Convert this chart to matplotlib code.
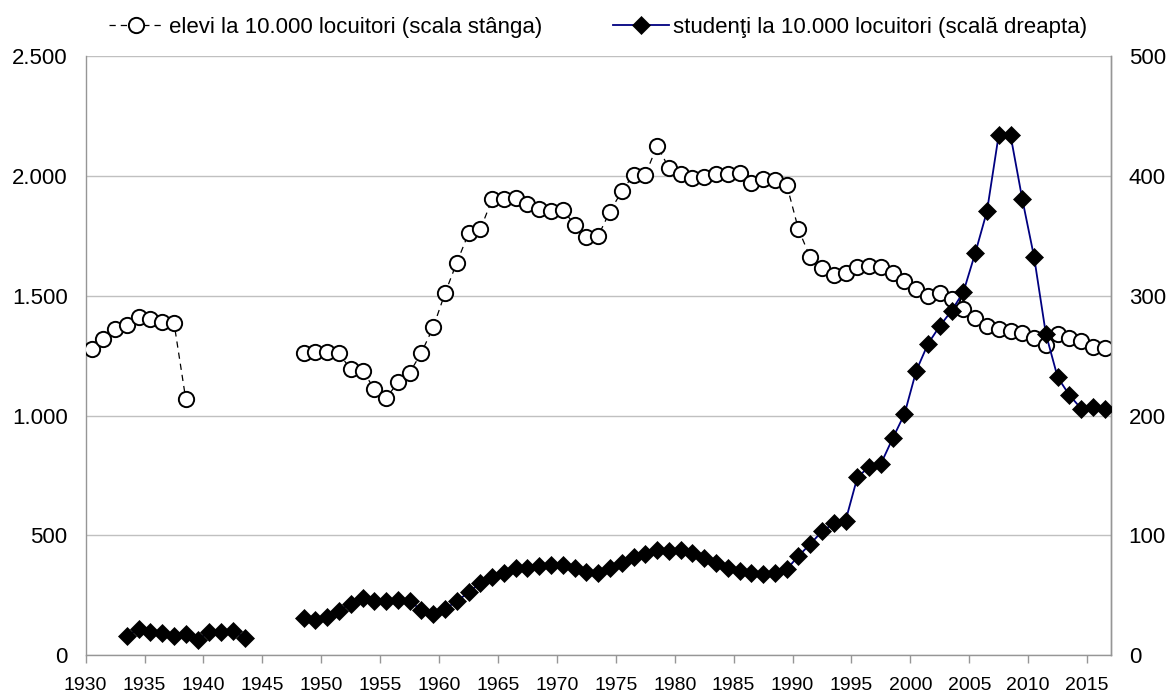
import numpy as np
import matplotlib
matplotlib.use("Agg")
import matplotlib.pyplot as plt
from matplotlib.ticker import FuncFormatter
from matplotlib import font_manager

nan = np.nan
years = list(range(1930, 2017))

elevi = ([1278, 1319, 1363, 1380, 1413, 1402, 1391, 1387, 1068]
         + [nan] * 9
         + [1260, 1266, 1267, 1260, 1193, 1188, 1112, 1072, 1139, 1179,
            1263, 1369, 1511, 1639, 1761, 1778, 1903, 1903, 1909, 1884,
            1864, 1853, 1860, 1797, 1747, 1751, 1852, 1937, 2006, 2006,
            2126, 2036, 2009, 1994, 1997, 2008, 2008, 2012, 1973, 1987,
            1984, 1965, 1778, 1661, 1617, 1587, 1596, 1621, 1625, 1622,
            1597, 1564, 1527, 1500, 1511, 1488, 1447, 1406, 1374, 1363,
            1355, 1344, 1324, 1295, 1341, 1324, 1313, 1288, 1281])

studenti = ([nan] * 3
            + [15.9, 21.7, 19.5, 18.1, 16.1, 17.3, 12.5, 19.5, 19.0, 20.0, 14.5]
            + [nan] * 4
            + [30.8, 29.5, 31.5, 37.0, 43.0, 48.0, 45.5, 45.4, 45.9, 44.7,
               37.8, 34.5, 38.7, 44.7, 52.5, 59.9, 65.0, 68.8, 72.8, 72.9,
               74.6, 75.4, 74.9, 72.4, 69.1, 68.8, 72.8, 77.1, 82.1, 84.1,
               87.7, 87.1, 87.7, 85.0, 80.8, 77.1, 72.7, 69.9, 68.8, 67.7,
               68.8, 71.6, 82.7, 92.7, 103.3, 110.0, 112.2, 148.4, 157.3, 159.8,
               181.0, 201.3, 237.5, 260.0, 274.9, 287.6, 303.3, 335.6, 370.7, 434.7,
               434.2, 380.7, 332.5, 268.2, 232.0, 217.0, 205.8, 207.5, 205.8])

label_elevi = "elevi la 10.000 locuitori (scala stânga)"
label_stud = "studenţi la 10.000 locuitori (scală dreapta)"
left_ticks = [0, 500, 1000, 1500, 2000, 2500]
right_ticks = [0, 100, 200, 300, 400, 500]
x_ticks = list(range(1930, 2016, 5))

plt.rcParams['font.family'] = ['Liberation Sans', 'DejaVu Sans']

installed = {f.name for f in font_manager.fontManager.ttflist}
if 'Liberation Sans Narrow' in installed:
    xfont, xsize = ['Liberation Sans Narrow', 'Liberation Sans'], 16
elif 'Arial Narrow' in installed:
    xfont, xsize = ['Arial Narrow', 'Liberation Sans'], 16
else:
    xfont, xsize = ['Liberation Sans', 'DejaVu Sans'], 14

fig = plt.figure(figsize=(11.7, 7), dpi=100)
ax = fig.add_axes([0.0732, 0.0643, 0.9493 - 0.0732, 0.9193 - 0.0643])
ax2 = ax.twinx()

x = np.array(years) + 0.5
grid_c = '#c0c0c0'
axis_c = '#969696'

l1, = ax.plot(x, elevi, color='black', lw=0.9, dashes=(5, 4),
              marker='o', ms=11, mfc='white', mec='black', mew=1.4,
              label=label_elevi, zorder=3)
l2, = ax2.plot(x, studenti, color='#000080', lw=1.3,
               marker='D', ms=9, mfc='black', mec='black', mew=0.5,
               label=label_stud, zorder=3)

ax.set_xlim(1930, 2017)
ax.set_ylim(0, 2500)
ax2.set_ylim(0, 500)

ax.set_yticks(left_ticks)
ax.yaxis.set_major_formatter(FuncFormatter(lambda v, p: f"{int(v):,}".replace(',', '.')))
ax2.set_yticks(right_ticks)
ax.set_xticks(x_ticks)
ax.set_xticklabels([str(t) for t in x_ticks], fontfamily=xfont)

ax.grid(axis='y', color=grid_c, lw=1.0)
ax.set_axisbelow(True)
ax.tick_params(axis='y', length=0, pad=13, labelsize=16)
ax2.tick_params(axis='y', length=0, pad=13, labelsize=16)
ax.tick_params(axis='x', length=6, width=1, color=axis_c, pad=10, labelsize=xsize, direction='out')

for sp in ['left', 'bottom', 'right']:
    ax.spines[sp].set_color(axis_c)
    ax.spines[sp].set_linewidth(1.0)
ax.spines['top'].set_visible(False)
for sp in ['left', 'bottom', 'top']:
    ax2.spines[sp].set_visible(False)
ax2.spines['right'].set_color(axis_c)
ax2.spines['right'].set_linewidth(1.0)

fig.legend(handles=[l1, l2], loc='center', bbox_to_anchor=(0.511, 0.961),
           ncol=2, frameon=False, fontsize=16, handlelength=2.5,
           handletextpad=0.2, columnspacing=3.2, borderaxespad=0)

fig.savefig('out.png', dpi=100)
